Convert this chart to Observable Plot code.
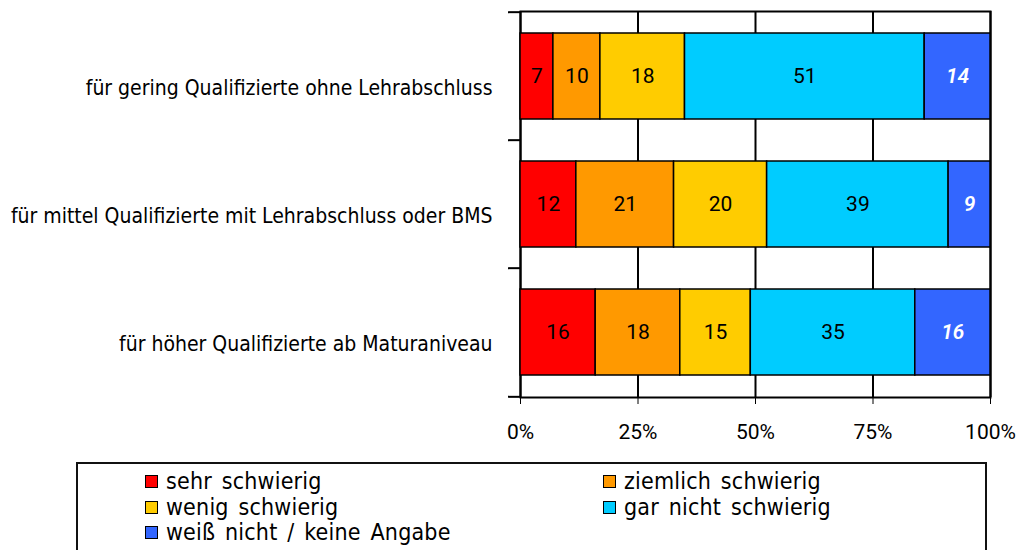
<!DOCTYPE html>
<html><head><meta charset="utf-8">
<script src="https://cdn.jsdelivr.net/npm/d3@7"></script>
<script src="https://cdn.jsdelivr.net/npm/@observablehq/plot@0.6"></script>
<style>
body{margin:0;background:#fff;width:1024px;height:550px;overflow:hidden;position:relative}
#chart{position:absolute;left:0;top:0}
#legend{position:absolute;left:76px;top:462px;width:911px;height:120px;border:2px solid #111;box-sizing:border-box;background:#fff}
.item{position:absolute;display:flex;align-items:center;height:23px;line-height:1;font-family:"DejaVu Sans Condensed","DejaVu Sans",sans-serif;font-stretch:condensed;font-size:23px;word-spacing:3px;letter-spacing:0.2px;color:#000;white-space:nowrap}
.item span{line-height:1}
.sw{width:11px;height:11px;border:1.5px solid #000;margin-right:8px;flex:none}
.cat{font-stretch:condensed}
</style></head><body>
<div id="chart"></div><div id="legend"></div>
<script>
const categories = [
  "für gering Qualifizierte ohne Lehrabschluss",
  "für mittel Qualifizierte mit Lehrabschluss oder BMS",
  "für höher Qualifizierte ab Maturaniveau"
];
const series = ["sehr schwierig","ziemlich schwierig","wenig schwierig","gar nicht schwierig","weiß nicht / keine Angabe"];
const colors = ["#FF0000","#FF9900","#FFCC00","#00CCFF","#3366FF"];
const valuesGering = [7,10,18,51,14];
const valuesMittel = [12,21,20,39,9];
const valuesHoeher = [16,18,15,35,16];
const xTicks = [0,0.25,0.5,0.75,1];

const rows = [valuesGering, valuesMittel, valuesHoeher];
const data = [];
categories.forEach((c, ci) => series.forEach((s, si) => data.push({cat: c, series: s, value: rows[ci][si]})));

const W = 1024, H = 455, mL = 520, mR = 34, mT = 11, mB = 58;
const step = (H - mT - mB) / categories.length;
const lastSeries = series[series.length - 1];
const stack = (extra) => Plot.stackX({x: "value", y: "cat", z: "series", order: series, offset: "normalize", ...extra});

const chart = Plot.plot({
  width: W, height: H,
  marginLeft: mL, marginRight: mR, marginTop: mT, marginBottom: mB,
  style: {fontFamily: "Roboto, sans-serif", fontSize: "21px", color: "#000", background: "#fff", overflow: "visible"},
  x: {domain: [0, 1], ticks: xTicks, tickFormat: d3.format(".0%"), tickSize: 7, tickPadding: 20, label: null},
  y: {domain: categories, paddingInner: 0.33, paddingOuter: 0.165, axis: null},
  color: {domain: series, range: colors},
  marks: [
    Plot.ruleX(xTicks, {stroke: "#000", strokeWidth: 2}),
    Plot.frame({stroke: "#000", strokeWidth: 2}),
    Plot.ruleY(categories, {y: d => d, dy: -step / 2, x1: 0, x2: 0, insetLeft: -12, stroke: "#000", strokeWidth: 2}),
    Plot.ruleY([categories[categories.length - 1]], {y: d => d, dy: step / 2, x1: 0, x2: 0, insetLeft: -12, stroke: "#000", strokeWidth: 2}),
    Plot.barX(data, stack({fill: "series", stroke: "#000", strokeWidth: 1.5})),
    Plot.text(data, Plot.filter(d => d.series !== lastSeries, stack({text: "value", fill: "#000", fontSize: 21, fontFamily: "Roboto, sans-serif"}))),
    Plot.text(data, Plot.filter(d => d.series === lastSeries, stack({text: "value", fill: "#fff", fontSize: 21, fontStyle: "italic", fontWeight: 600, fontFamily: "Roboto, sans-serif"}))),
    Plot.text(categories, {y: d => d, text: d => d, frameAnchor: "left", textAnchor: "end", dx: -28, dy: 12, fontSize: 21, fontFamily: "DejaVu Sans Condensed, DejaVu Sans, sans-serif", className: "cat"})
  ]
});
document.getElementById("chart").appendChild(chart);

const legend = document.getElementById("legend");
const pos = [[67, 6], [525, 6], [67, 32], [525, 32], [67, 57]];
series.forEach((s, i) => {
  const it = document.createElement("div");
  it.className = "item";
  it.style.left = pos[i][0] + "px";
  it.style.top = pos[i][1] + "px";
  const sw = document.createElement("span");
  sw.className = "sw";
  sw.style.background = colors[i];
  const tx = document.createElement("span");
  tx.textContent = s;
  it.appendChild(sw); it.appendChild(tx);
  legend.appendChild(it);
});
</script>
</body></html>
